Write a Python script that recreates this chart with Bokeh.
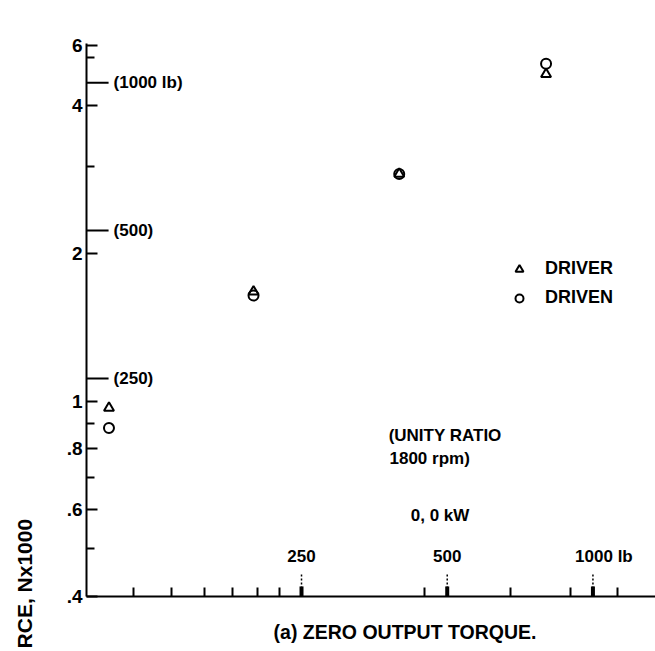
import math
from bokeh.plotting import figure
from bokeh.models import FixedTicker, Label, Legend, LegendItem, CustomJSTickFormatter
from bokeh.core.properties import value
from bokeh.embed import file_html
from bokeh.resources import INLINE

# ---- data (both axes in kN, log scales) ----
load_kn = [0.445, 0.885, 1.77, 3.559]
driver_kn = [0.968, 1.67, 2.90, 4.63]
driven_kn = [0.881, 1.64, 2.90, 4.86]

y_ticks = [0.4, 0.6, 0.8, 1.0, 2.0, 4.0, 5.3]
y_tick_labels = [".4", ".6", ".8", "1", "2", "4", "6"]
y_minor = [0.5, 0.7, 0.9, 3.0, 5.0]
x_ticks = [0.5, 0.6, 0.7, 0.8, 0.9, 1.0, 2.0, 3.0, 4.0, 5.0]

lb_kn = [1.112, 2.224, 4.448]
y_lb_labels = ["(250)", "(500)", "(1000 lb)"]
x_lb_labels = ["250", "500", "1000 lb"]
x_lb_shift = [0, 0, 11]

note_lines = ["(UNITY RATIO", "1800 rpm)", "0, 0 kW"]
note_x = [1.683, 1.69, 1.87]
note_y = [0.852, 0.762, 0.585]

FONT = "Liberation Sans"

# axes are drawn floating inside a full-canvas frame so that captions can sit outside them
p = figure(width=655, height=651, x_axis_type="log", y_axis_type="log",
           x_range=(0.2656, 5.99), y_range=(0.309, 6.54),
           output_backend="svg", toolbar_location=None,
           min_border_left=0, min_border_right=0, min_border_top=0, min_border_bottom=0)
p.title.visible = False
p.outline_line_color = None
p.grid.visible = False
p.background_fill_color = "white"
p.border_fill_color = "white"

# y axis
yax = p.yaxis[0]
yax.fixed_location = 0.4
yax.bounds = (0.4, 5.35)
yax.ticker = FixedTicker(ticks=y_ticks, minor_ticks=y_minor)
yax.formatter = CustomJSTickFormatter(args=dict(tvals=y_ticks, tlabels=y_tick_labels), code="""
const i = tvals.findIndex(t => Math.abs(t - tick) < 1e-6);
return i >= 0 ? tlabels[i] : "";
""")
yax.axis_line_width = 2
yax.major_tick_in = 11
yax.major_tick_out = 0
yax.minor_tick_in = 8
yax.minor_tick_out = 0
yax.major_tick_line_width = 2
yax.minor_tick_line_width = 2
yax.major_label_standoff = 4
yax.major_label_text_font = FONT
yax.major_label_text_font_style = "bold"
yax.major_label_text_font_size = "19px"
yax.major_label_text_color = "black"

# x axis
xax = p.xaxis[0]
xax.fixed_location = 0.4
xax.bounds = (0.4, 6.0)
xax.ticker = FixedTicker(ticks=x_ticks, minor_ticks=[])
xax.formatter = CustomJSTickFormatter(code="return '';")
xax.axis_line_width = 2
xax.major_tick_in = 9
xax.major_tick_out = 0
xax.major_tick_line_width = 2
xax.major_label_text_font_size = "1px"

# data points
r_driver = p.scatter(load_kn, driver_kn, marker="triangle", size=10, line_color="black",
                     line_width=2, fill_color=None)
r_driven = p.scatter(load_kn, driven_kn, marker="circle", size=10, line_color="black",
                     line_width=2, fill_color=None)

# lb reference marks on the y axis
p.ray(x=[0.4] * 3, y=lb_kn, length=22, length_units="screen", angle=0,
      line_color="black", line_width=2)
p.text(x=[0.4] * 3, y=lb_kn, text=y_lb_labels, x_offset=27, text_baseline="middle",
       text_font=value(FONT), text_font_style="bold", text_font_size="17px", text_color="black")

# lb reference marks on the x axis
p.ray(x=lb_kn, y=[0.4] * 3, length=24, length_units="screen", angle=math.pi / 2,
      line_color="black", line_width=1.5, line_dash="2 2")
p.ray(x=lb_kn, y=[0.4] * 3, length=10, length_units="screen", angle=math.pi / 2,
      line_color="black", line_width=4)
p.text(x=lb_kn, y=[0.4] * 3, text=x_lb_labels, x_offset=x_lb_shift, y_offset=-40,
       text_align="center", text_baseline="middle",
       text_font=value(FONT), text_font_style="bold", text_font_size="17px", text_color="black")

# notes
p.text(x=note_x, y=note_y, text=note_lines, text_baseline="middle",
       text_font=value(FONT), text_font_style="bold", text_font_size="17px", text_color="black")

# legend
legend = Legend(items=[LegendItem(label="DRIVER", renderers=[r_driver]),
                       LegendItem(label="DRIVEN", renderers=[r_driven])],
                location=(509, 343), orientation="vertical",
                border_line_color=None, background_fill_alpha=0,
                padding=0, margin=0, spacing=8, glyph_width=20, glyph_height=20,
                label_height=20, label_standoff=16,
                label_text_font=FONT, label_text_font_style="bold",
                label_text_font_size="18px", label_text_color="black")
p.add_layout(legend, "center")

# captions
p.add_layout(Label(x=0.4, y=0.4, x_offset=187, y_offset=-36,
                   text="(a) ZERO OUTPUT TORQUE.", text_align="left", text_baseline="middle",
                   text_font=FONT, text_font_style="bold", text_font_size="19.5px",
                   text_color="black"))
p.add_layout(Label(x=0.4, y=0.4, x_offset=-62, y_offset=-52, angle=math.pi / 2,
                   text="RCE, Nx1000", text_align="left", text_baseline="middle",
                   text_font=FONT, text_font_style="bold", text_font_size="21px",
                   text_color="black"))

open("out.html", "w").write(file_html(p, INLINE))
